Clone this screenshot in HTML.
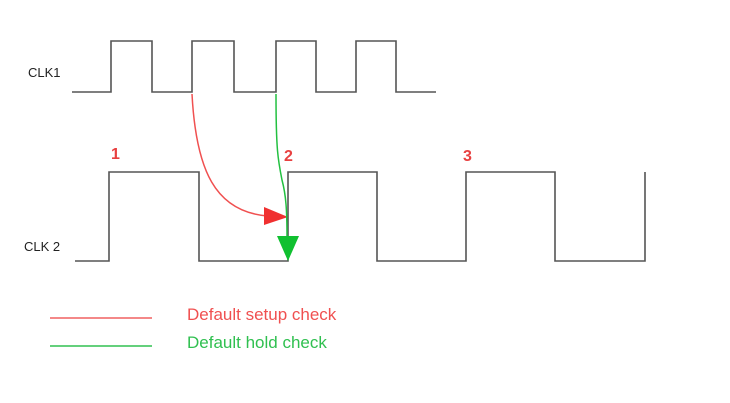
<!DOCTYPE html>
<html><head><meta charset="utf-8"><style>html,body{margin:0;padding:0;background:#fff}svg{display:block}</style></head><body>
<svg width="730" height="403" viewBox="0 0 730 403" xmlns="http://www.w3.org/2000/svg" font-family="Liberation Sans, sans-serif">
<g fill="none" stroke="#555" stroke-width="1.6">
<polyline points="72,92 111,92 111,41 152,41 152,92 192,92 192,41 234,41 234,92 276,92 276,41 316,41 316,92 356,92 356,41 396,41 396,92 436,92"/>
<polyline points="75,261 109,261 109,172 199,172 199,261 288,261 288,172 377,172 377,261 466,261 466,172 555,172 555,261 645,261 645,172"/>
</g>
<path d="M192,94 C196,170 215,212 268,216" fill="none" stroke="#f05050" stroke-width="1.5"/>
<polygon points="264,207 288,217 264,225" fill="#f03030"/>
<path d="M276,94 C276,150 278,160 282,180 C286,195 287,210 287,238" fill="none" stroke="#22c040" stroke-width="1.5"/>
<polygon points="277,236 299,236 288,261" fill="#10c030"/>
<g fill="#e84040" font-weight="bold" font-size="16">
<text x="111" y="159">1</text><text x="284" y="161">2</text><text x="463" y="161">3</text>
</g>
<text x="28" y="77" font-size="13" fill="#222">CLK1</text>
<text x="24" y="251" font-size="13" fill="#222">CLK 2</text>
<line x1="50" y1="318" x2="152" y2="318" stroke="#f06060" stroke-width="1.5"/>
<line x1="50" y1="346" x2="152" y2="346" stroke="#30c050" stroke-width="1.5"/>
<text x="187" y="320" font-size="17" fill="#f05050">Default setup check</text>
<text x="187" y="348" font-size="17" fill="#30c050">Default hold check</text>
</svg>
</body></html>
